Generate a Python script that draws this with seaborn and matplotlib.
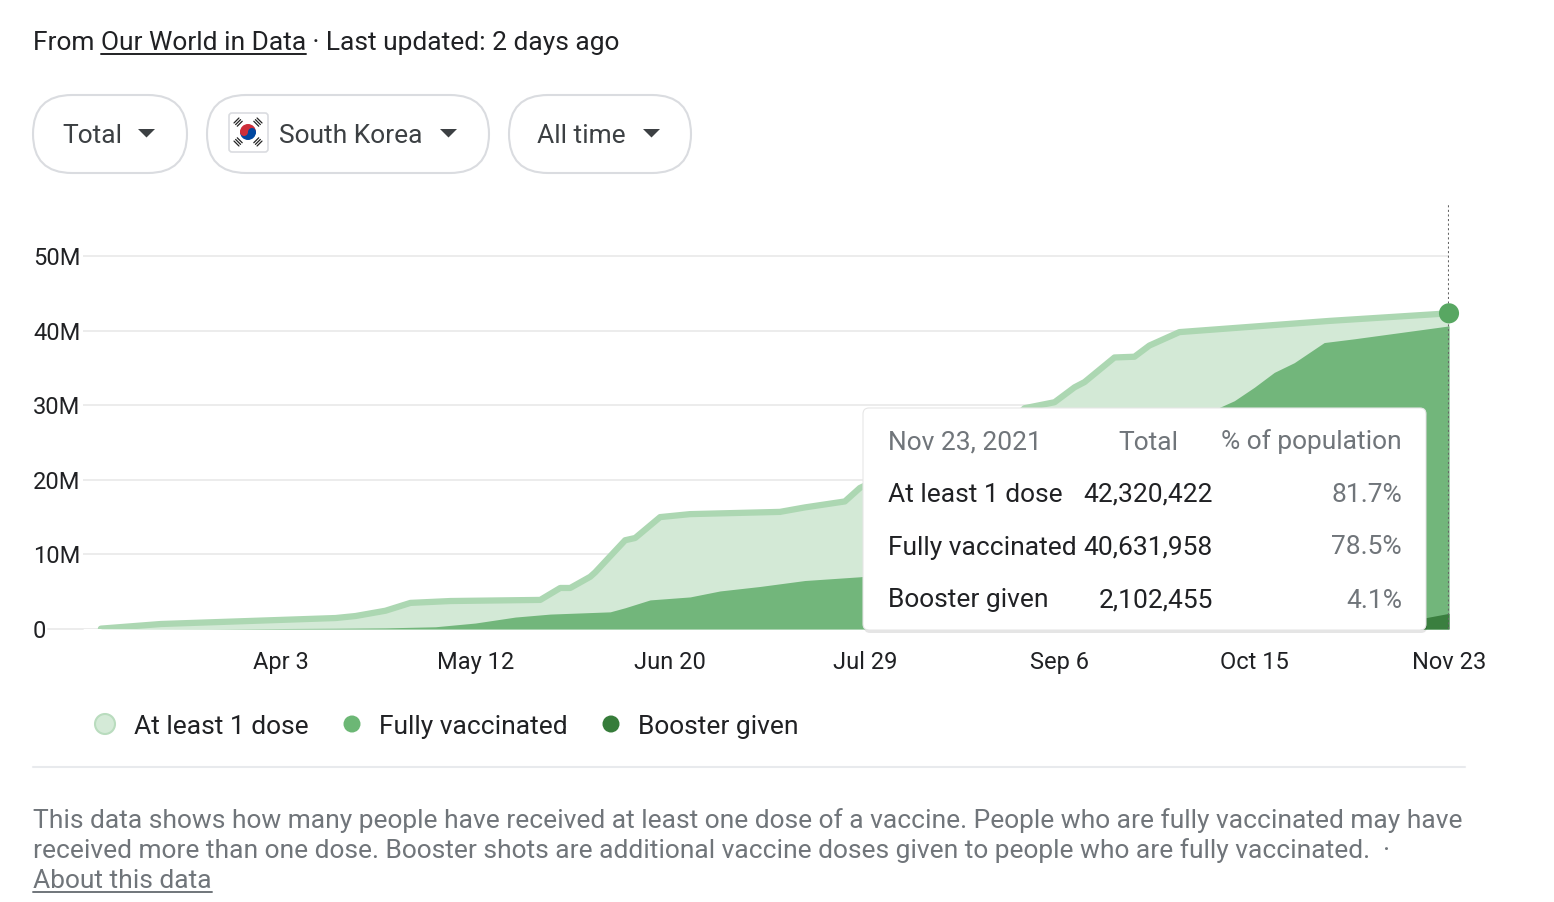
import pandas as pd
import seaborn as sns
import matplotlib.pyplot as plt
from matplotlib.patches import FancyBboxPatch, Circle, Wedge, Polygon

sns.set_style("white")
plt.rcParams['font.family'] = ['Roboto', 'DejaVu Sans']

W, H = 1554, 902
FS = 19
AXIS_FS = 17
DARK_TXT = '#202124'
GRAY_TXT = '#70757a'
LIGHT_FILL = '#d3e9d6'
LIGHT_LINE = '#acd7b2'
MID_FILL = '#72b67b'
DARK_FILL = '#3a7f3f'
DOT = '#58a762'

# --- data (people, millions) ---
dose1_dates = ["2021-02-26", "2021-03-10", "2021-04-14", "2021-04-18", "2021-04-24",
               "2021-04-29", "2021-05-07", "2021-05-25", "2021-05-26", "2021-05-29",
               "2021-05-31", "2021-06-04", "2021-06-05", "2021-06-11", "2021-06-13",
               "2021-06-18", "2021-06-24", "2021-07-12", "2021-07-17", "2021-07-25",
               "2021-07-28", "2021-08-02", "2021-08-09", "2021-08-16", "2021-08-23",
               "2021-08-28", "2021-08-30", "2021-09-05", "2021-09-09", "2021-09-11",
               "2021-09-17", "2021-09-21", "2021-09-24", "2021-09-30", "2021-10-10",
               "2021-10-30", "2021-11-23"]
dose1_vals = [0.05, 0.67, 1.47, 1.74, 2.45,
              3.5, 3.75, 3.9, 4.3, 5.5,
              5.5, 7.0, 7.6, 11.9, 12.2,
              15.0, 15.4, 15.7, 16.3, 17.1,
              18.9, 20.5, 21.8, 23.0, 25.5,
              28.3, 29.6, 30.4, 32.4, 33.1,
              36.4, 36.5, 38.0, 39.8, 40.3,
              41.3, 42.32]

full_dates = ["2021-02-26", "2021-03-20", "2021-04-14", "2021-04-24", "2021-05-04",
              "2021-05-12", "2021-05-20", "2021-05-27", "2021-06-08", "2021-06-11",
              "2021-06-16", "2021-06-24", "2021-06-30", "2021-07-08", "2021-07-17",
              "2021-07-28", "2021-08-05", "2021-08-15", "2021-08-25", "2021-09-04",
              "2021-09-14", "2021-09-24", "2021-10-01", "2021-10-08", "2021-10-11",
              "2021-10-15", "2021-10-19", "2021-10-23", "2021-10-29", "2021-11-04",
              "2021-11-23"]
full_vals = [0.0, 0.02, 0.1, 0.15, 0.3,
             0.8, 1.6, 2.0, 2.3, 2.85,
             3.9, 4.3, 5.1, 5.7, 6.5,
             7.0, 7.6, 10.0, 14.0, 17.5,
             20.5, 23.0, 25.5, 29.7, 30.6,
             32.4, 34.4, 35.7, 38.4, 38.9,
             40.63]

boost_dates = ["2021-02-26", "2021-10-11", "2021-10-25", "2021-11-05", "2021-11-15",
               "2021-11-19", "2021-11-23"]
boost_vals = [0.0, 0.0, 0.1, 0.5, 1.1, 1.6, 2.1]

tick_dates = ["2021-04-03", "2021-05-12", "2021-06-20", "2021-07-29",
              "2021-09-06", "2021-10-15", "2021-11-23"]
tick_labels = ["Apr 3", "May 12", "Jun 20", "Jul 29", "Sep 6", "Oct 15", "Nov 23"]
y_ticks = [0, 10, 20, 30, 40, 50]
y_labels = ["0", "10M", "20M", "30M", "40M", "50M"]

series_names = ["At least 1 dose", "Fully vaccinated", "Booster given"]
latest_totals = ["42,320,422", "40,631,958", "2,102,455"]
latest_pct = ["81.7%", "78.5%", "4.1%"]

d1 = pd.DataFrame({'date': pd.to_datetime(dose1_dates), 'value': dose1_vals})
d2 = pd.DataFrame({'date': pd.to_datetime(full_dates), 'value': full_vals})
d3 = pd.DataFrame({'date': pd.to_datetime(boost_dates), 'value': boost_vals})
last_day = pd.Timestamp("2021-11-23")

fig = plt.figure(figsize=(W / 100, H / 100), dpi=100)
fig.patch.set_facecolor('white')

# --- main chart ---
ax = fig.add_axes([83 / W, (H - 629) / H, (1449 - 83) / W, (629 - 205) / H])
ax.fill_between(d1['date'], 0, d1['value'], color=LIGHT_FILL, lw=0, zorder=2)
sns.lineplot(data=d1, x='date', y='value', ax=ax, color=LIGHT_LINE, lw=4.5, zorder=3)
ax.fill_between(d2['date'], 0, d2['value'], color=MID_FILL, lw=0, zorder=4)
ax.fill_between(d3['date'], 0, d3['value'], color=DARK_FILL, lw=0, zorder=5)

ax.axvline(last_day, color='#666666', lw=1.5, ls=(0, (1, 1.2)), zorder=6)
ax.scatter([last_day], [d1['value'].iloc[-1]], s=210, color=DOT, zorder=7,
           clip_on=False, edgecolors='none')

ax.set_xlim(pd.Timestamp("2021-02-26") - pd.Timedelta(hours=86), last_day)
ax.set_ylim(0, 56.84)
ax.set_yticks(y_ticks)
ax.set_yticklabels(y_labels)
ax.set_xticks(pd.to_datetime(tick_dates))
ax.set_xticklabels(tick_labels)
for lab in ax.get_yticklabels():
    lab.set_ha('left')
ax.tick_params(axis='y', length=0, pad=36, labelsize=AXIS_FS, labelcolor=DARK_TXT)
ax.tick_params(axis='x', length=10, width=1.2, color='#e3e3e3', pad=6,
               labelsize=AXIS_FS, labelcolor=DARK_TXT)
ax.grid(axis='y', color='#ececec', lw=1.4)
ax.grid(axis='x', visible=False)
ax.set_axisbelow(True)
sns.despine(ax=ax, left=True, bottom=True)
ax.set_xlabel('')
ax.set_ylabel('')

# --- overlay in pixel coordinates for the page furniture ---
ov = fig.add_axes([0, 0, 1, 1])
ov.set_xlim(0, W)
ov.set_ylim(H, 0)
ov.axis('off')
ov.patch.set_alpha(0)
renderer = fig.canvas.get_renderer()


def txt(x, y, s, color=DARK_TXT, ha='left', size=FS, underline=False):
    t = ov.text(x, y, s, color=color, ha=ha, va='baseline', fontsize=size)
    bb = t.get_window_extent(renderer=renderer)
    if underline:
        ov.plot([bb.x0, bb.x1], [y + 4, y + 4], color=color, lw=1.4)
    return bb


# zero line runs a bit further left
ov.plot([48, 83], [629, 629], color='#ececec', lw=1.4)

# header
bb = txt(33, 50, "From ")
bb = txt(bb.x1, 50, "Our World in Data", underline=True)
txt(bb.x1, 50, " \u00b7 Last updated: 2 days ago")

# selector pills
pills = [(33, 187, "Total", 62, 138), (207, 489, "South Korea", 279, 440),
         (509, 691, "All time", 537, 643)]
for x0, x1, label, tx, tri in pills:
    ov.add_patch(FancyBboxPatch((x0, 95), x1 - x0, 78,
                                boxstyle="round,pad=0,rounding_size=39",
                                fc='white', ec='#dadce0', lw=1.5))
    txt(tx, 143, label, color='#3c4043', size=19)
    ov.add_patch(Polygon([(tri, 129), (tri + 17, 129), (tri + 8.5, 137.5)],
                         closed=True, fc='#3c4043', ec='none'))

# small Korean flag
ov.add_patch(FancyBboxPatch((229, 113), 39, 39, boxstyle="round,pad=0,rounding_size=3",
                            fc='white', ec='#dadce0', lw=1.2))
cx, cy = 248, 132
ov.add_patch(Wedge((cx, cy), 8, 180, 360, fc='#cd2e3a', ec='none'))
ov.add_patch(Wedge((cx, cy), 8, 0, 180, fc='#0047a0', ec='none'))
ov.add_patch(Circle((cx - 4, cy), 4, fc='#cd2e3a', ec='none'))
ov.add_patch(Circle((cx + 4, cy), 4, fc='#0047a0', ec='none'))
for dx, dy in [(-1, -1), (1, -1), (-1, 1), (1, 1)]:
    ux, uy = dx * 0.707, dy * 0.707
    px, py = -uy, ux
    for k in (-1, 0, 1):
        mx, my = cx + ux * (14 + 2.3 * k), cy + uy * (14 + 2.3 * k)
        ov.plot([mx - px * 3.5, mx + px * 3.5], [my - py * 3.5, my + py * 3.5],
                color='#222222', lw=0.9)

# tooltip
ov.add_patch(FancyBboxPatch((864, 411), 563, 222, boxstyle="round,pad=0,rounding_size=6",
                            fc='black', ec='none', alpha=0.10))
ov.add_patch(FancyBboxPatch((863, 408), 563, 222, boxstyle="round,pad=0,rounding_size=6",
                            fc='white', ec='#e6e6e6', lw=0.8))
txt(888, 449.5, "Nov 23, 2021", color=GRAY_TXT)
txt(1178, 449.5, "Total", color=GRAY_TXT, ha='right')
txt(1402, 449.5, "% of population", color=GRAY_TXT, ha='right')
for i, (name, tot, pct) in enumerate(zip(series_names, latest_totals, latest_pct)):
    yb = 501.5 + 53 * i
    txt(888, yb, name)
    txt(1213, yb, tot, ha='right')
    txt(1402, yb, pct, color=GRAY_TXT, ha='right')

# legend
ov.add_patch(Circle((105, 724), 10, fc='#d4ead7', ec='#b9dcbe', lw=1.5))
ov.add_patch(Circle((352, 724), 8.5, fc='#6cb775', ec='none'))
ov.add_patch(Circle((611, 724), 8.5, fc='#367c3a', ec='none'))
for x, name in zip([134, 379, 638], series_names):
    txt(x, 734, name)

ov.plot([33, 1465], [767, 767], color='#e8eaed', lw=1.5)

# description
txt(33, 828, "This data shows how many people have received at least one dose of a vaccine. "
    "People who are fully vaccinated may have", color=GRAY_TXT)
txt(33, 858, "received more than one dose. Booster shots are additional vaccine doses "
    "given to people who are fully vaccinated.  \u00b7", color=GRAY_TXT)
txt(33, 888, "About this data", color=GRAY_TXT, underline=True)

fig.savefig("out.png", dpi=100, facecolor='white')
